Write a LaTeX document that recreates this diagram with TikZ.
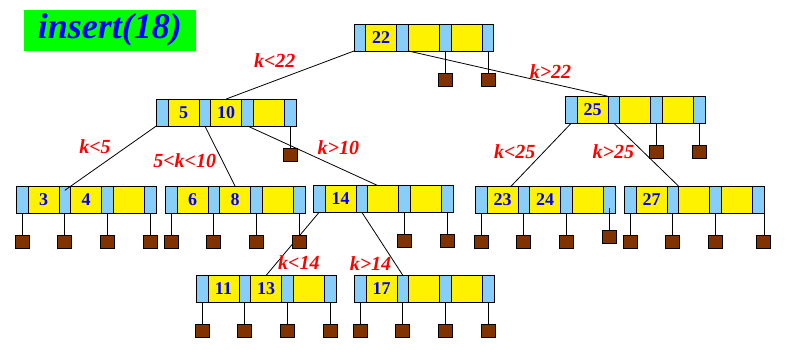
\documentclass[tikz,border=0pt]{standalone}
\usepackage{fontspec}
\setmainfont{Liberation Serif}
\usepackage{tikz}
\usetikzlibrary{positioning}
\definecolor{ptrblue}{RGB}{135,206,250}
\definecolor{leafbrown}{RGB}{128,51,0}
\definecolor{titlegreen}{RGB}{0,255,0}

\newcommand{\btnode}[5]{%
\node[ptr,anchor=north west] (#1p1) at (#2) {};
\node[key,right=0pt of #1p1] (#1k1) {#3};
\node[ptr,right=0pt of #1k1] (#1p2) {};
\node[key,right=0pt of #1p2] (#1k2) {#4};
\node[ptr,right=0pt of #1k2] (#1p3) {};
\node[key,right=0pt of #1p3] (#1k3) {#5};
\node[ptr,right=0pt of #1k3] (#1p4) {};
}

\begin{document}
\begin{tikzpicture}[x=1pt,y=-1pt,line width=0.8pt,
ptr/.style={draw,fill=ptrblue,minimum width=11.7pt,minimum height=27pt,inner sep=0pt,outer sep=0pt},
key/.style={draw,fill=yellow,minimum width=31pt,minimum height=27pt,inner sep=0pt,outer sep=0pt,
  text=blue,font=\fontsize{18}{18}\selectfont\bfseries},
leaf/.style={draw,fill=leafbrown,minimum width=14pt,minimum height=13pt,inner sep=0pt,outer sep=0pt,below=22pt of #1},
lbl/.style={text=red,font=\fontsize{20}{20}\selectfont\bfseries\itshape}]
\useasboundingbox (0,0) rectangle (788,349);
\node[fill=titlegreen,minimum width=171.7pt,minimum height=40.7pt,inner sep=0pt,text=blue,
  font=\fontsize{36}{36}\selectfont\bfseries\itshape] (title) at (109.8,30.3) {insert(18)};

\btnode{n22}{354,24}{22}{}{}
\btnode{n5}{156.3,99}{5}{10}{}
\btnode{n25}{565.3,96.3}{25}{}{}
\btnode{n3}{16.3,186.3}{3}{4}{}
\btnode{n6}{165.3,186.3}{6}{8}{}
\btnode{n14}{313.3,185.3}{14}{}{}
\btnode{n23}{475.3,186.3}{23}{24}{}
\btnode{n27}{624.3,186.3}{27}{}{}
\btnode{n11}{196.3,275.3}{11}{13}{}
\btnode{n17}{354.3,275.3}{17}{}{}

% tree edges
\draw (n22p1.south west) -- (n5k2.north);
\draw (n22p2.south east) -- (n25k1.north east);
\draw (n5p1.south west) -- ([yshift=-4pt]n3p2.north);
\draw (n5p2.south) -- (n6k2.north);
\draw (n5p3.south) -- ([xshift=-6pt]n14k2.north);
\draw (n25p1.south) -- ([xshift=-7pt]n23k1.north east);
\draw (n25p2.south) -- (n27p2.north east);
\draw (n14p1.south) -- (n11k2.north);
\draw (n14p2.south) -- (n17p2.north);

% leaves
\foreach \t/\i in {n22/3,n22/4,n5/4,n25/3,n25/4,n14/3,n14/4,n23/1,n23/2,n23/3,n27/1,n27/2,n27/3}{
  \node[leaf=\t p\i] (\t l\i) {};
  \draw (\t l\i) -- (\t p\i);
}
\foreach \t in {n3,n6,n11,n17}
  \foreach \i in {1,...,4}{
    \node[leaf=\t p\i] (\t l\i) {};
    \draw (\t l\i) -- (\t p\i);
  }
\node[leaf=n23p4,yshift=5pt] (n23l4) {};
\draw (n23l4) -- ([yshift=5pt]n23p4.south);
\node[leaf=n27p4,xshift=5pt] (n27l4) {};
\draw (n27p4.south east) -- (n27p4.south east |- n27l4.north);

\node[lbl] (lk22) at (274.7,60.5) {k<22};
\node[lbl] (gk22) at (550.5,71.7) {k>22};
\node[lbl] (lk5) at (95,146.7) {k<5};
\node[lbl] (bk5) at (184.7,160.8) {5<k<10};
\node[lbl] (gk10) at (338.3,147.7) {k>10};
\node[lbl] (lk25) at (514.7,151.7) {k<25};
\node[lbl] (gk25) at (613.3,152) {k>25};
\node[lbl] (lk14) at (298.8,262.5) {k<14};
\node[lbl] (gk14) at (370.5,264) {k>14};
\end{tikzpicture}
\end{document}
